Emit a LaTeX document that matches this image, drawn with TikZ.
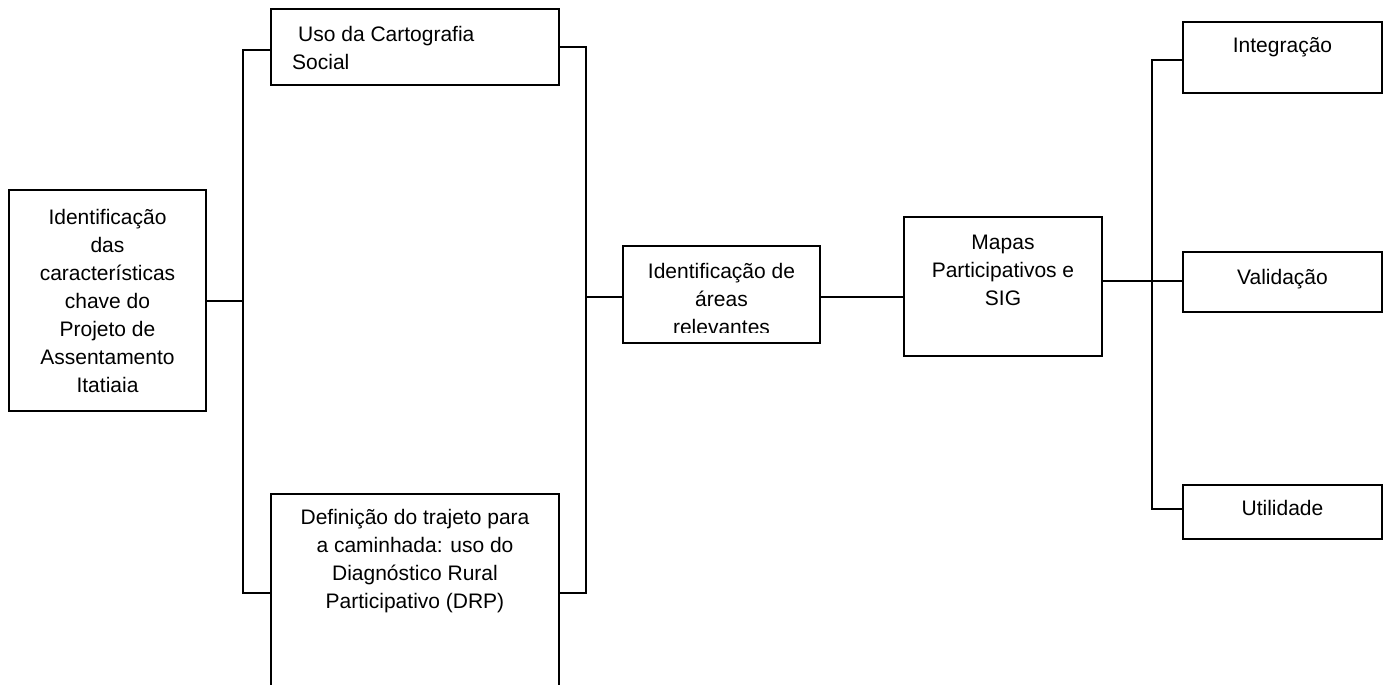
\documentclass[tikz,border=0pt]{standalone}
\usepackage{fontspec}
\setmainfont{Liberation Sans}
\begin{document}
\begin{tikzpicture}[x=1pt,y=-1pt,
  box/.style={draw, line width=2pt, inner sep=0pt},
  txt/.style={font=\fontsize{21}{28}\selectfont, align=center, inner sep=0pt},
  conn/.style={line width=2pt}]
\useasboundingbox (0,0) rectangle (1384,685);
\clip (0,0) rectangle (1384,685);

% boxes
\node[box, txt, minimum width=197, minimum height=221] (ident) at (107.5,300.5)
  {Identificação\\das\\características\\chave do\\Projeto de\\Assentamento\\Itatiaia};

\node[box, minimum width=288, minimum height=76] (uso) at (415,47) {};
\node[txt, align=left, anchor=west] (usoT) at (292,48) {\hspace*{6pt}Uso da Cartografia\\Social};

\node[box, minimum width=288, minimum height=260, anchor=north] (def) at (415,493) {};
\node[txt] (defT) at (415,561) {Definição do trajeto para\\a caminhada: uso do\\Diagnóstico Rural\\Participativo (DRP)};

\node[box, minimum width=197, minimum height=97] (areas) at (721.5,294.5) {};
\begin{scope}
  \clip (623,246) rectangle (820,332);
  \node[txt] (areasT) at (721.5,299) {Identificação de\\áreas\\relevantes};
\end{scope}

\node[box, minimum width=198, minimum height=139] (mapas) at (1003,286.5) {};
\node[txt] (mapasT) at (1003,270) {Mapas\\Participativos e\\SIG};

\node[box, minimum width=199, minimum height=71] (integ) at (1282.5,57.5) {};
\node[txt] (integT) at (1282.5,47) {Integração};

\node[box, minimum width=199, minimum height=60] (valid) at (1282.5,282) {};
\node[txt] (validT) at (1282.5,279) {Validação};

\node[box, minimum width=199, minimum height=54] (util) at (1282.5,512) {};
\node[txt] (utilT) at (1282.5,508) {Utilidade};

% junction coordinates
\coordinate (bL1) at (243,50);
\coordinate (bL2) at (243,593);
\coordinate (bR1) at (586,47);
\coordinate (bR2) at (586,593);
\coordinate (m1) at (586,297);
\coordinate (bV1) at (1152,60);
\coordinate (bV2) at (1152,509);
\coordinate (m2) at (1152,281);

% connectors
\draw[conn] (ident.east) -- (ident.east -| bL1);
\draw[conn] (uso.west |- bL1) -- (bL1) -- (bL2) -- (def.west |- bL2);
\draw[conn] (uso.east |- bR1) -- (bR1) -- (bR2) -- (def.east |- bR2);
\draw[conn] (m1) -- (m1 -| areas.west);
\draw[conn] (areas.east |- m1) -- (m1 -| mapas.west);
\draw[conn] (mapas.east |- m2) -- (m2 -| valid.west);
\draw[conn] (integ.west |- bV1) -- (bV1) -- (bV2) -- (util.west |- bV2);
\end{tikzpicture}
\end{document}
